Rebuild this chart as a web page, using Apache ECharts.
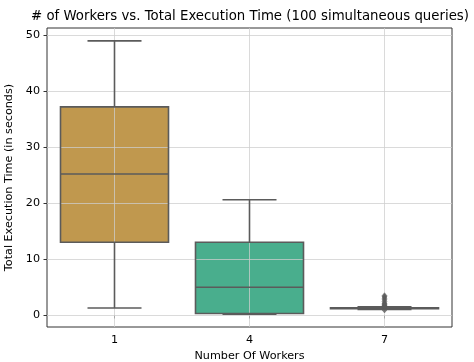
<!DOCTYPE html>
<html>
<head>
<meta charset="utf-8">
<script src="https://cdn.jsdelivr.net/npm/echarts@6/dist/echarts.min.js"></script>
<style>html,body{margin:0;padding:0;background:#fff}#c{width:474px;height:362px}</style>
</head>
<body>
<div id="c"></div>
<script>
const categories = ['1', '4', '7'];
const whiskerLow = [1.25, 0.15, 1.0];
const q1 = [13.0, 0.25, 1.1];
const median = [25.2, 4.95, 1.2];
const q3 = [37.2, 13.0, 1.3];
const whiskerHigh = [49.0, 20.6, 1.45];
const flierCategory = ['7', '7', '7', '7', '7', '7', '7', '7', '7', '7', '7'];
const flierValues = [0.9, 1.55, 1.65, 1.8, 1.95, 2.1, 2.4, 2.7, 3.0, 3.25, 3.45];
const boxColors = ['#c0984e', '#49ae8d', '#5a8fc4'];
const yTicks = [0, 10, 20, 30, 40, 50];

const lineColor = '#5b5b5b';
const gridColor = 'rgba(205,205,205,0.75)';
const font = 'DejaVu Sans';

const fillData = categories.map((c, i) => ({
  value: [q1[i], q1[i], median[i], q3[i], q3[i]],
  itemStyle: { color: boxColors[i], borderWidth: 0 }
}));
const outlineData = categories.map((c, i) => [q1[i], q1[i], median[i], q3[i], q3[i]]);
const whiskerData = categories.map((c, i) => [c, whiskerLow[i], q1[i], q3[i], whiskerHigh[i]]);
const flierData = flierValues.map((v, i) => [flierCategory[i], v]);

const gridLines = categories.map(c => ({ xAxis: c })).concat(yTicks.map(v => ({ yAxis: v })));

const chart = echarts.init(document.getElementById('c'), null, { renderer: 'canvas' });
const xBase = {
  type: 'category',
  data: categories,
  boundaryGap: true
};
chart.setOption({
  animation: false,
  backgroundColor: '#fff',
  title: {
    text: '# of Workers vs. Total Execution Time (100 simultaneous queries)',
    left: 245,
    top: 5,
    textAlign: 'center',
    textStyle: { fontFamily: font, fontSize: 13.3, fontWeight: 'normal', color: '#000' }
  },
  grid: {
    left: 47, right: 22, top: 28, bottom: 35,
    outerBoundsMode: 'none',
    containLabel: false,
    show: true, borderColor: '#333', borderWidth: 1, backgroundColor: 'transparent'
  },
  xAxis: [
    Object.assign({}, xBase, {
      name: 'Number Of Workers',
      nameLocation: 'middle',
      nameGap: 22,
      nameTextStyle: { fontFamily: font, fontSize: 11.2, color: '#000' },
      axisLine: { show: false },
      axisTick: { show: true, alignWithLabel: true, length: 3.5, lineStyle: { color: '#333' } },
      axisLabel: { fontFamily: font, fontSize: 11.2, color: '#000', margin: 8 },
      splitLine: { show: false }
    }),
    Object.assign({}, xBase, { show: false }),
    Object.assign({}, xBase, { show: false })
  ],
  yAxis: {
    type: 'value',
    min: -2.15,
    max: 51.3,
    name: 'Total Execution Time (in seconds)',
    nameLocation: 'middle',
    nameGap: 23,
    nameTextStyle: { fontFamily: font, fontSize: 11.2, color: '#000' },
    axisLine: { show: false },
    axisTick: { show: true, length: 3.5, customValues: yTicks, lineStyle: { color: '#333' } },
    axisLabel: { fontFamily: font, fontSize: 11.2, color: '#000', margin: 7, customValues: yTicks },
    splitLine: { show: false }
  },
  series: [
    {
      type: 'boxplot',
      xAxisIndex: 0,
      z: 1,
      boxWidth: ['80%', '80%'],
      data: fillData,
      silent: true
    },
    {
      type: 'line',
      xAxisIndex: 0,
      data: [],
      z: 2,
      silent: true,
      markLine: {
        z: 2,
        silent: true,
        symbol: ['none', 'none'],
        label: { show: false },
        lineStyle: { type: 'solid', width: 1, color: gridColor },
        emphasis: { disabled: true },
        data: gridLines
      }
    },
    {
      type: 'boxplot',
      xAxisIndex: 1,
      z: 3,
      boxWidth: ['80%', '80%'],
      itemStyle: { color: 'rgba(0,0,0,0)', borderColor: lineColor, borderWidth: 1.6 },
      data: outlineData,
      silent: true
    },
    {
      type: 'custom',
      xAxisIndex: 2,
      z: 4,
      silent: true,
      encode: { x: 0, y: [1, 2, 3, 4] },
      data: whiskerData,
      renderItem: function (params, api) {
        const x = api.value(0);
        const pLow = api.coord([x, api.value(1)]);
        const pQ1 = api.coord([x, api.value(2)]);
        const pQ3 = api.coord([x, api.value(3)]);
        const pHigh = api.coord([x, api.value(4)]);
        const half = api.size([1, 0])[0] * 0.2;
        const style = { stroke: lineColor, lineWidth: 1.6 };
        return {
          type: 'group',
          children: [
            { type: 'line', shape: { x1: pLow[0], y1: pLow[1], x2: pQ1[0], y2: pQ1[1] }, style: style },
            { type: 'line', shape: { x1: pQ3[0], y1: pQ3[1], x2: pHigh[0], y2: pHigh[1] }, style: style },
            { type: 'line', shape: { x1: pLow[0] - half, y1: pLow[1], x2: pLow[0] + half, y2: pLow[1] }, style: style },
            { type: 'line', shape: { x1: pHigh[0] - half, y1: pHigh[1], x2: pHigh[0] + half, y2: pHigh[1] }, style: style }
          ]
        };
      }
    },
    {
      type: 'scatter',
      xAxisIndex: 0,
      z: 5,
      silent: true,
      symbol: 'diamond',
      symbolSize: [5, 6],
      itemStyle: { color: lineColor, borderColor: lineColor, borderWidth: 0.5 },
      data: flierData
    }
  ]
});
</script>
</body>
</html>
